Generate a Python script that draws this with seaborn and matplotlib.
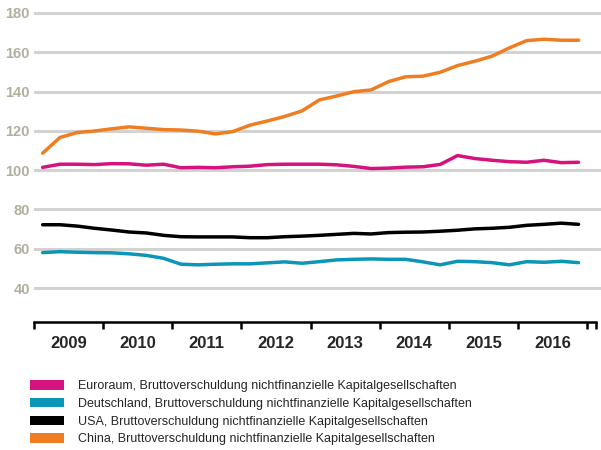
import numpy as np
import pandas as pd
import seaborn as sns
import matplotlib.pyplot as plt
from matplotlib.patches import Patch
from matplotlib import font_manager

# quarterly values 2009Q1 .. 2016Q4 (percent of GDP)
euro = [101.4, 103.0, 103.0, 102.8, 103.3, 103.2, 102.5, 103.0,
        101.2, 101.4, 101.2, 101.7, 102.0, 102.8, 103.0, 103.0,
        103.0, 102.7, 101.9, 100.8, 101.0, 101.5, 101.7, 102.9,
        107.4, 105.9, 105.0, 104.3, 104.0, 105.0, 103.8, 104.0]
germany = [58.0, 58.5, 58.2, 58.0, 57.9, 57.4, 56.6, 55.1,
           52.1, 51.8, 52.1, 52.3, 52.3, 52.8, 53.3, 52.6,
           53.4, 54.3, 54.6, 54.8, 54.6, 54.6, 53.3, 51.8,
           53.6, 53.4, 52.9, 51.8, 53.4, 53.1, 53.6, 52.9]
usa = [72.2, 72.2, 71.5, 70.4, 69.5, 68.5, 68.0, 66.8,
       66.1, 66.0, 66.0, 66.0, 65.6, 65.6, 66.1, 66.4,
       66.8, 67.3, 67.8, 67.5, 68.2, 68.4, 68.5, 68.9,
       69.4, 70.1, 70.4, 70.9, 71.9, 72.4, 73.0, 72.4]
china = [108.6, 116.6, 119.1, 119.9, 121.0, 122.0, 121.3, 120.6,
         120.4, 119.8, 118.4, 119.6, 122.9, 125.0, 127.3, 130.1,
         135.7, 137.7, 139.9, 140.8, 145.0, 147.5, 147.8, 149.8,
         153.2, 155.4, 158.0, 162.2, 165.9, 166.6, 166.1, 166.1]

years = list(range(2009, 2017))
suffix = ", Bruttoverschuldung nichtfinanzielle Kapitalgesellschaften"
names = ["Euroraum", "Deutschland", "USA", "China"]
colors = ["#d5137f", "#0b96b8", "#000000", "#ef7d22"]

quarters = [y + (q + 0.5) / 4 for y in years for q in range(4)]
df = pd.DataFrame({"x": quarters * 4,
                   "value": euro + germany + usa + china,
                   "series": np.repeat(names, len(quarters))})

sns.set_style("white")
avail = {f.name for f in font_manager.fontManager.ttflist}
plt.rcParams["font.family"] = ["Liberation Sans", "DejaVu Sans"]
if "Liberation Sans Narrow" in avail:
    legend_prop = {"family": "Liberation Sans Narrow", "size": 10}
else:
    legend_prop = {"family": "Liberation Sans", "size": 9}

fig = plt.figure(figsize=(6.01, 4.5), dpi=100)
ax = fig.add_axes([34 / 601, 128 / 450, 567 / 601, 314 / 450])

for y in range(40, 181, 20):
    ax.axhline(y, color="#d2d2d2", lw=2.2, zorder=0)

sns.lineplot(data=df, x="x", y="value", hue="series", palette=dict(zip(names, colors)),
             linewidth=2.5, legend=False, ax=ax)

xend = 2017.13
ax.set_xlim(2009, 2017.2)
ax.set_ylim(22.7, 182.5)
ax.set_xlabel("")
ax.set_ylabel("")

for s in ["top", "right", "left"]:
    ax.spines[s].set_visible(False)
ax.spines["bottom"].set_bounds(2009, xend)
ax.spines["bottom"].set_linewidth(1.8)
ax.spines["bottom"].set_color("black")

ax.set_yticks(range(40, 181, 20))
ax.tick_params(axis="y", length=0, pad=3, labelsize=10.5, labelcolor="#b2af9f")
for t in ax.get_yticklabels():
    t.set_fontweight("bold")

ax.set_xticks(years + [2017, xend])
ax.set_xticklabels([])
ax.tick_params(axis="x", which="major", bottom=True, length=5, width=1.8,
               direction="out", color="black")
ax.set_xticks([y + 0.5 for y in years], minor=True)
ax.set_xticklabels([str(y) for y in years], minor=True, fontweight="bold", fontsize=12)
ax.tick_params(axis="x", which="minor", bottom=True, length=0, pad=10)

handles = [Patch(facecolor=c, edgecolor="none") for c in colors]
labels = [n + suffix for n in names]
fig.legend(handles, labels, loc="upper left", bbox_to_anchor=(30 / 601, 1 - 380 / 450),
           frameon=False, borderpad=0, borderaxespad=0, handlelength=2.7, handleheight=0.8,
           handletextpad=1.1, labelspacing=0.45, prop=legend_prop)

fig.savefig("out.png", dpi=100)
